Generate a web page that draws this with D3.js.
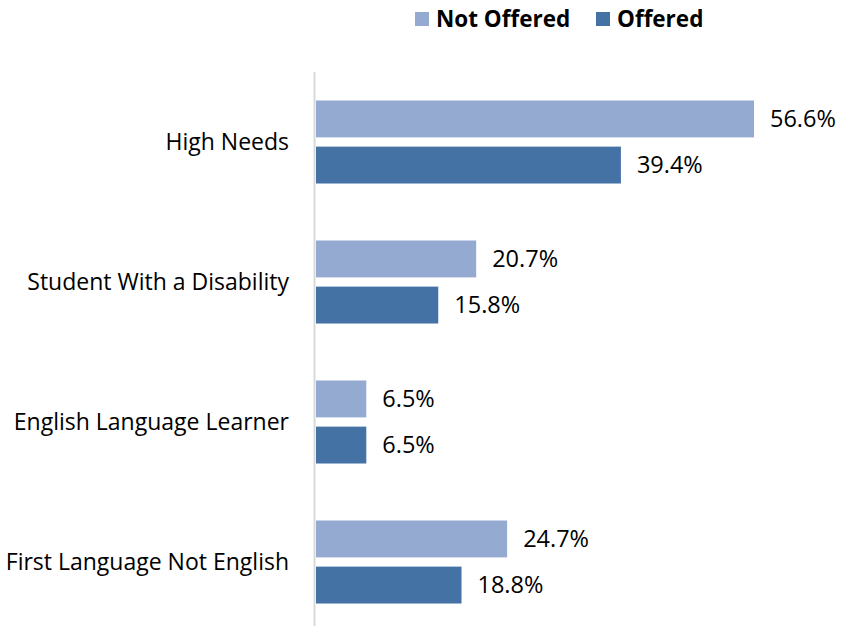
<!DOCTYPE html>
<html>
<head>
<meta charset="utf-8">
<script src="https://cdn.jsdelivr.net/npm/d3@7"></script>
<style>
  body { margin: 0; background: #fff; }
  text { font-family: "Open Sans", "Noto Sans", sans-serif; fill: #000; }
</style>
</head>
<body>
<div id="viz"></div>
<script>
const width = 841;
const height = 626;
const margin = { top: 72, right: 40, bottom: -6, left: 316 };

const categories = ['High Needs', 'Student With a Disability', 'English Language Learner', 'First Language Not English'];
const seriesNames = ['Not Offered', 'Offered'];
const notOffered = [56.6, 20.7, 6.5, 24.7];
const offered = [39.4, 15.8, 6.5, 18.8];

const colors = ['#95aad1', '#4472a5'];

const rows = categories.map((c, i) => ({ category: c, values: [notOffered[i], offered[i]] }));

const svg = d3.create('svg')
  .attr('width', width)
  .attr('height', height);

const innerH = height - margin.top - margin.bottom;

const y = d3.scaleBand()
  .domain(categories)
  .range([margin.top, margin.top + innerH])
  .paddingInner(0.407)
  .paddingOuter(0.2035);

const y1 = d3.scaleBand()
  .domain([0, 1])
  .range([0, y.bandwidth()])
  .paddingInner(0.2);

const x = d3.scaleLinear()
  .domain([0, 56.6])
  .range([margin.left, 754]);

// bars
const groups = svg.selectAll('.group')
  .data(rows)
  .enter()
  .append('g')
  .attr('class', 'group')
  .attr('transform', d => `translate(0, ${y(d.category)})`);

groups.selectAll('rect')
  .data(d => d.values.map((v, i) => ({ v, i })))
  .enter()
  .append('rect')
  .attr('x', x(0))
  .attr('y', d => y1(d.i))
  .attr('width', d => x(d.v) - x(0))
  .attr('height', y1.bandwidth())
  .attr('fill', d => colors[d.i]);

groups.selectAll('.val')
  .data(d => d.values.map((v, i) => ({ v, i })))
  .enter()
  .append('text')
  .attr('class', 'val')
  .attr('x', d => x(d.v) + 16)
  .attr('y', d => y1(d.i) + y1.bandwidth() / 2)
  .attr('dy', '0.35em')
  .style('font-size', '23.5px')
  .text(d => d.v.toFixed(1) + '%');

// axis line
svg.append('line')
  .attr('x1', margin.left - 1.5)
  .attr('x2', margin.left - 1.5)
  .attr('y1', margin.top)
  .attr('y2', height)
  .attr('stroke', '#d9d9d9')
  .attr('stroke-width', 2);

// category labels
svg.selectAll('.cat')
  .data(categories)
  .enter()
  .append('text')
  .attr('class', 'cat')
  .attr('x', 289)
  .attr('y', d => y(d) + y.bandwidth() / 2)
  .attr('dy', '0.35em')
  .style('text-anchor', 'end')
  .style('font-size', '23px')
  .text(d => d);

// legend
const legendX = [415, 596];
const legend = svg.selectAll('.legend')
  .data(seriesNames)
  .enter()
  .append('g')
  .attr('class', 'legend')
  .attr('transform', (d, i) => `translate(${legendX[i]}, 12)`);

legend.append('rect')
  .attr('width', 14)
  .attr('height', 14)
  .attr('fill', (d, i) => colors[i]);

legend.append('text')
  .attr('x', 21)
  .attr('y', 7)
  .attr('dy', '0.35em')
  .style('font-size', '22.5px')
  .style('font-weight', 700)
  .text(d => d);

d3.select('#viz').node().appendChild(svg.node());
</script>
</body>
</html>
